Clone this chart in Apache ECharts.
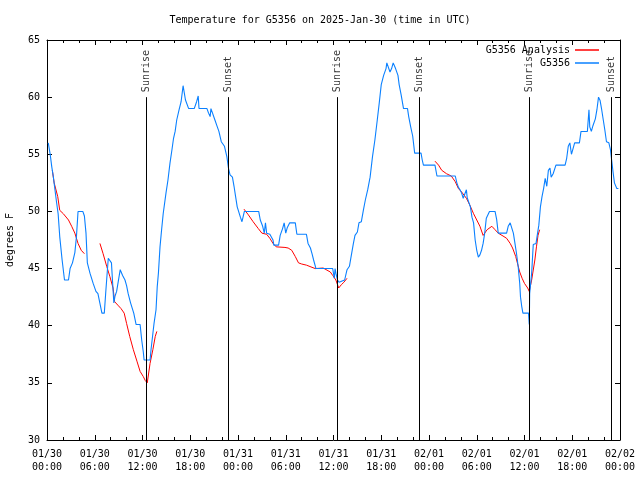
<!DOCTYPE html>
<html>
<head>
<meta charset="utf-8">
<script src="https://cdn.jsdelivr.net/npm/echarts@6/dist/echarts.min.js"></script>
<style>html,body{margin:0;padding:0;background:#fff}#c{width:640px;height:480px}</style>
</head>
<body>
<div id="c"></div>
<script>
// Hours since 2025-01-30 00:00 UTC
const tickLabels = ['01/30\n00:00','01/30\n06:00','01/30\n12:00','01/30\n18:00','01/31\n00:00','01/31\n06:00','01/31\n12:00','01/31\n18:00','02/01\n00:00','02/01\n06:00','02/01\n12:00','02/01\n18:00','02/02\n00:00'];

const obsHours = [0.16,0.4,0.6,0.8,1.0,1.2,1.4,1.6,1.9,2.2,2.7,2.9,3.2,3.5,3.7,3.9,4.5,4.7,4.9,5.07,5.4,5.8,6.15,6.4,6.65,6.9,7.2,7.4,7.7,7.95,8.1,8.25,8.4,8.55,8.75,9.0,9.2,9.3,9.5,9.8,10.0,10.2,10.5,10.7,10.9,11.2,11.7,11.9,12.1,12.2,12.95,13.07,13.3,13.45,13.7,13.85,14.0,14.2,14.4,14.6,14.95,15.2,15.45,15.7,15.9,16.1,16.3,16.6,16.85,17.1,17.4,17.8,18.5,18.8,19.0,19.1,20.1,20.3,20.5,20.6,20.8,21.1,21.4,21.6,21.9,22.3,22.6,22.8,23.0,23.3,23.5,23.7,23.9,24.3,24.5,24.8,26.6,26.8,27.1,27.3,27.45,27.6,28.0,28.4,28.5,29.1,29.3,29.6,29.8,30.0,30.2,30.5,31.2,31.4,32.6,32.8,33.1,33.3,33.5,33.8,35.9,36.1,36.2,36.3,36.5,36.7,37.4,37.7,38.0,38.2,38.5,38.7,39.0,39.2,39.5,39.75,40.0,40.3,40.6,40.9,41.2,41.5,41.75,42.0,42.3,42.6,42.7,42.95,43.1,43.3,43.5,43.8,44.1,44.25,44.5,44.8,45.3,45.45,45.7,45.95,46.2,47.0,47.15,47.3,48.75,49.0,51.3,51.5,51.7,51.9,52.1,52.3,52.5,52.7,52.8,53.2,53.4,53.6,53.8,54.0,54.2,54.4,54.6,54.8,55.0,55.2,55.6,56.3,56.5,56.7,57.75,57.95,58.2,58.45,58.6,58.8,59.0,59.2,59.4,59.5,59.65,59.8,60.5,60.6,60.65,60.9,61.1,61.45,61.6,61.8,62.0,62.2,62.4,62.6,62.8,63.0,63.2,63.35,63.6,63.95,65.1,65.3,65.5,65.7,65.9,66.1,66.3,66.9,67.1,67.9,68.1,68.2,68.4,68.6,68.9,69.1,69.3,69.5,69.7,69.9,70.1,70.3,70.6,70.8,70.95,71.1,71.3,71.6,71.8];
const obsTemps = [56.0,55.0,53.9,53.0,51.9,50.8,49.8,47.8,45.75,44.0,44.0,45.0,45.5,46.4,47.8,50.0,50.0,49.6,48.1,45.5,44.6,43.7,43.0,42.8,41.95,41.1,41.1,43.1,45.9,45.9,45.5,43.7,42.0,42.6,43.0,43.1,44.9,45.0,44.4,44.0,43.5,42.8,42.0,41.9,41.1,40.1,40.1,38.75,37.7,37.0,37.0,37.9,39.3,40.2,41.4,43.4,44.6,46.9,48.4,49.8,51.6,52.75,54.2,55.4,56.4,57.0,58.0,58.9,59.6,61.0,59.75,59.0,59.0,59.6,60.1,59.0,59.0,58.6,58.3,59.0,58.6,58.0,57.4,57.0,56.1,55.7,54.8,53.8,53.2,53.0,52.2,51.3,50.4,49.5,49.1,50.0,50.0,49.25,48.7,48.1,49.0,48.1,48.0,47.5,47.05,47.05,47.9,48.5,49.0,48.1,48.6,49.0,49.0,48.0,48.0,47.2,46.8,46.3,45.75,45.0,45.0,44.15,45.0,44.6,44.0,43.8,44.0,44.9,45.2,46.0,47.2,47.9,48.2,49.0,49.1,50.1,51.0,51.9,53.0,54.8,56.25,58.0,59.5,61.1,61.9,62.5,63.0,63.0,62.2,62.5,63.0,62.5,61.9,61.1,60.2,59.0,59.0,58.3,57.4,56.6,55.1,55.1,54.5,54.05,54.05,53.1,53.1,52.5,52.1,51.9,51.6,51.15,51.1,51.9,51.2,50.4,49.5,49.0,47.5,46.6,46.0,46.2,46.6,47.2,48.1,49.4,50.0,50.0,49.3,48.1,48.1,48.7,49.0,49.0,48.1,47.2,46.3,45.2,43.7,42.5,41.7,41.1,41.1,40.1,42.8,44.6,47.1,47.2,47.9,48.8,50.4,51.3,52.0,52.9,52.2,53.6,53.8,53.0,53.3,54.05,54.05,54.65,55.7,56.0,55.0,55.5,56.0,56.0,57.0,57.0,58.9,57.4,57.0,57.5,58.1,58.9,60.0,59.7,58.9,58.0,57.1,56.1,56.0,55.4,54.5,53.6,52.5,52.0,52.0];

// Analysis series (null = gap between analysis runs)
const anaHours = [0.67,0.9,1.35,1.6,2.05,2.7,3.1,3.5,3.9,4.3,4.7, 5.5, 6.65,7.05,7.5,7.9,8.3,8.5,8.9,9.3,9.7,10.0,10.4,10.85,11.3,11.7,12.1,12.35,12.6,12.95,13.3,13.6,13.8, 20, 24.75,25.3,25.9,26.55,27.0,27.6,28.0,28.4,28.8,29.9,30.3,30.75,31.2,31.6,32.0,32.6,33.7,34.7,35.6,35.9,36.3,36.5,36.65,37.0,37.3,37.7, 45, 48.75,49.2,49.6,50.2,50.8,51.3,51.7,52.1,52.7,53.1,53.6,54.0,54.4,54.8,55.3,55.9,56.3,56.7,57.3,57.75,58.2,58.5,58.9,59.1,59.4,59.7,60.0,60.4,60.6,60.9,61.3,61.5,61.7,61.9];
const anaTemps = [53.6,52.5,51.3,50.1,49.8,49.25,48.7,48.1,47.2,46.6,46.3, null, 47.2,46.3,45.2,44.3,43.3,42.1,41.8,41.5,41.1,40.2,39.05,37.9,36.9,36.0,35.55,35.2,35.0,36.7,37.9,39.05,39.5, null, 50.2,49.7,49.1,48.5,48.1,48.0,47.65,47.2,46.9,46.85,46.8,46.6,46.05,45.5,45.4,45.3,45.0,45.05,44.7,44.4,44.0,43.6,43.3,43.6,43.8,44.15, null, 54.4,54.05,53.6,53.3,53.1,52.6,52.0,51.7,51.15,50.6,49.8,49.25,48.7,47.9,48.4,48.7,48.4,48.1,47.85,47.65,47.2,46.8,46.05,45.5,44.7,44.15,43.7,43.3,43.0,44.0,45.75,46.9,47.9,48.4];

const sunEvents = ['Sunrise','Sunset','Sunrise','Sunset','Sunrise','Sunset'];
const sunHours = [12.48,22.78,36.5,46.8,60.6,70.9];

const FONT = 'DejaVu Sans Mono';
const BLUE = '#0a80ff';
const RED = '#ff0000';
const obsData = obsHours.map((h,i)=>[h,obsTemps[i]]);
const anaData = anaHours.map((h,i)=>[h,anaTemps[i]]);

const chart = echarts.init(document.getElementById('c'), null, {renderer:'canvas'});
const commonX = {type:'value', min:0, max:72, interval:6,
  axisLine:{show:true,onZero:false,lineStyle:{color:'#000',width:1}},
  axisTick:{show:true,inside:true,length:5,lineStyle:{color:'#000'}},
  minorTick:{show:true,splitNumber:3,length:3,lineStyle:{color:'#000'}},
  splitLine:{show:false}};
const commonY = {type:'value', min:30, max:65, interval:5,
  axisLine:{show:true,onZero:false,lineStyle:{color:'#000',width:1}},
  axisTick:{show:true,inside:true,length:5,lineStyle:{color:'#000'}},
  splitLine:{show:false}};

chart.setOption({
  animation:false,
  backgroundColor:'#fff',
  title:{text:'Temperature for G5356 on 2025-Jan-30 (time in UTC)', left:'center', top:10,
    textStyle:{fontFamily:FONT,fontSize:10,fontWeight:'normal',color:'#000'}},
  grid:{left:47,right:20,top:40,bottom:40,containLabel:false,outerBoundsMode:'none'},
  legend:{orient:'vertical', right:36, top:40, align:'right', itemGap:3, itemWidth:24, itemHeight:1.5,
    icon:'rect',
    textStyle:{fontFamily:FONT,fontSize:10,color:'#000'},
    data:[{name:'G5356 Analysis',icon:'rect',itemStyle:{color:RED}},{name:'G5356',icon:'rect',itemStyle:{color:BLUE}}]},
  xAxis:[
    Object.assign({}, commonX, {position:'bottom',
      axisLabel:{show:true,margin:8,fontFamily:FONT,fontSize:10,color:'#000',lineHeight:13,
        formatter:(v)=>tickLabels[Math.round(v/6)]}}),
    Object.assign({}, commonX, {position:'top', axisLabel:{show:false}})
  ],
  yAxis:[
    Object.assign({}, commonY, {position:'left', name:'degrees F', nameLocation:'middle', nameGap:32, nameRotate:90,
      nameTextStyle:{fontFamily:FONT,fontSize:10,color:'#000'},
      axisLabel:{show:true,margin:7,fontFamily:FONT,fontSize:10,color:'#000'}}),
    Object.assign({}, commonY, {position:'right', axisLabel:{show:false}})
  ],
  series:[
    {name:'G5356 Analysis', type:'line', data:anaData, showSymbol:false, symbol:'none', connectNulls:false,
      lineStyle:{color:RED,width:1}, itemStyle:{color:RED}, z:3},
    {name:'G5356', type:'line', data:obsData, showSymbol:false, symbol:'none',
      lineStyle:{color:BLUE,width:1.1}, itemStyle:{color:BLUE}, z:4},
    {name:'sun', type:'line', data:[], symbol:'none', silent:true,
      markLine:{silent:true, symbol:['none','none'], animation:false,
        lineStyle:{color:'#000',width:1,type:'solid'}, label:{show:false},
        data: sunHours.map(h=>[{coord:[h,30]},{coord:[h,60]}])}},
    {name:'sunlabels', type:'scatter', symbolSize:0, silent:true,
      data: sunHours.map((h,i)=>({value:[h,60], name:sunEvents[i]})),
      label:{show:true, position:'top', distance:5, rotate:90, align:'left', verticalAlign:'middle',
        formatter:(p)=>p.name, fontFamily:FONT, fontSize:10, color:'#000'}}
  ]
});
</script>
</body>
</html>
